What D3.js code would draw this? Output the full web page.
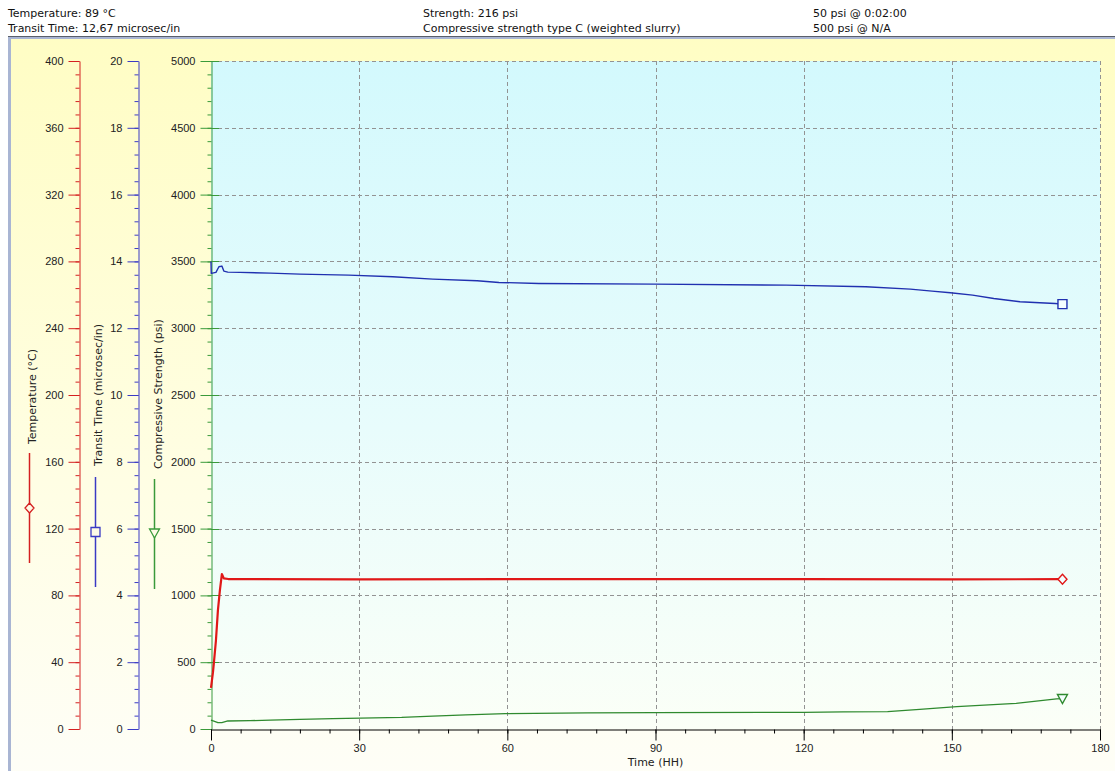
<!DOCTYPE html>
<html>
<head>
<meta charset="utf-8">
<script src="https://cdn.jsdelivr.net/npm/d3@7"></script>
<style>
  body { margin: 0; background: #fff; }
  svg { display: block; font-family: "DejaVu Sans", sans-serif; }
  .tick text { font-size: 11px; fill: #222; }
</style>
</head>
<body>
<div class="chart"></div>
<script>
// header texts
var headerLeft = ['Temperature: 89 °C', 'Transit Time: 12,67 microsec/in'];
var headerMid = ['Strength: 216 psi', 'Compressive strength type C (weighted slurry)'];
var headerRight = ['50 psi @ 0:02:00', '500 psi @ N/A'];

// axis ticks
var timeTicks = [0, 30, 60, 90, 120, 150, 180];
var tempTicks = [0, 40, 80, 120, 160, 200, 240, 280, 320, 360, 400];
var transitTicks = [0, 2, 4, 6, 8, 10, 12, 14, 16, 18, 20];
var strengthTicks = [0, 500, 1000, 1500, 2000, 2500, 3000, 3500, 4000, 4500, 5000];

// temperature (°C)
var tempHours = [0, 0.4, 0.6, 1.0, 1.4, 1.8, 2.2, 2.6, 3.5, 30, 60, 90, 120, 150, 172.4];
var tempC = [24.6, 34, 40, 53, 71, 83, 92.8, 90.2, 89.8, 89.6, 89.8, 89.7, 89.8, 89.6, 89.7];

// transit time (microsec/in)
var transitHours = [0, 0.05, 1.0, 1.6, 2.2, 2.6, 3.4, 5.9, 12, 18, 27.9, 36.8, 44.9, 53.9, 58.3, 66.4,
  89.7, 116.5, 132.6, 141.6, 146, 149.7, 154.2, 158.5, 163.8, 167.8, 170.9, 172.4];
var transitUs = [14.0, 13.64, 13.67, 13.84, 13.86, 13.71, 13.68, 13.67, 13.65, 13.62, 13.59, 13.54, 13.47, 13.42, 13.37, 13.34,
  13.32, 13.29, 13.24, 13.17, 13.11, 13.06, 12.99, 12.89, 12.79, 12.76, 12.74, 12.72];

// compressive strength (psi)
var strengthHours = [0, 0.3, 1.4, 2.2, 3.4, 7.9, 12, 18, 24.7, 38.6, 44.9, 51.6, 59.6, 76.2, 89.7, 120, 128, 137, 143.5, 151, 163, 171.2, 172.4];
var strengthPsi = [67, 62, 47, 47, 60, 62, 67, 72, 77, 87, 97, 105, 115, 120, 122, 125, 128, 130, 147, 167, 192, 225, 228];

var W = 1115, H = 771;
var svg = d3.select('.chart').append('svg').attr('width', W).attr('height', H);

var defs = svg.append('defs');
var g1 = defs.append('linearGradient').attr('id', 'panelBg').attr('x1', 0).attr('y1', 0).attr('x2', 0).attr('y2', 1);
g1.append('stop').attr('offset', '0%').attr('stop-color', '#fffdc4');
g1.append('stop').attr('offset', '60%').attr('stop-color', '#fffee4');
g1.append('stop').attr('offset', '100%').attr('stop-color', '#fefef7');
var g2 = defs.append('linearGradient').attr('id', 'plotBg').attr('x1', 0).attr('y1', 0).attr('x2', 0).attr('y2', 1);
g2.append('stop').attr('offset', '0%').attr('stop-color', '#d3f9fd');
g2.append('stop').attr('offset', '55%').attr('stop-color', '#e8fcfc');
g2.append('stop').attr('offset', '100%').attr('stop-color', '#fbfff7');

// header
function header(lines, x) {
  svg.append('g').selectAll('text').data(lines).enter().append('text')
    .attr('x', x).attr('y', function(d, i) { return 17 + i * 15; })
    .attr('font-size', 11).attr('fill', '#111')
    .text(function(d) { return d; });
}
header(headerLeft, 8);
header(headerMid, 423);
header(headerRight, 813);

// panel
svg.append('rect').attr('x', 9.5).attr('y', 37.5).attr('width', 1120).attr('height', 740)
  .attr('fill', 'url(#panelBg)').attr('stroke', '#a9b5d3').attr('stroke-width', 3);
svg.append('line').attr('x1', 8).attr('x2', W).attr('y1', 36.5).attr('y2', 36.5)
  .attr('stroke', '#5a5f6a').attr('stroke-width', 1);

var x = d3.scaleLinear().domain([0, 180]).range([211, 1100]);
var yS = d3.scaleLinear().domain([0, 5000]).range([729, 61]);
var yT = d3.scaleLinear().domain([0, 400]).range([729, 61]);
var yTr = d3.scaleLinear().domain([0, 20]).range([729, 61]);

svg.append('rect').attr('x', x(0)).attr('y', yS(5000)).attr('width', x(180) - x(0)).attr('height', yS(0) - yS(5000))
  .attr('fill', 'url(#plotBg)');

// grid
var grid = svg.append('g').attr('stroke', '#939393').attr('stroke-dasharray', '4,3').attr('stroke-width', 1);
grid.selectAll('.h').data(strengthTicks.slice(1)).enter().append('line')
  .attr('x1', x(0)).attr('x2', x(180))
  .attr('y1', function(d) { return Math.round(yS(d)) + 0.5; })
  .attr('y2', function(d) { return Math.round(yS(d)) + 0.5; });
grid.selectAll('.v').data(timeTicks.slice(1)).enter().append('line')
  .attr('y1', yS(5000)).attr('y2', yS(0))
  .attr('x1', function(d) { return Math.round(x(d)) + 0.5; })
  .attr('x2', function(d) { return Math.round(x(d)) + 0.5; });

// left axes
function leftAxis(scale, ticks, step, xPos, color) {
  var minor = d3.range(scale.domain()[0], scale.domain()[1] + step / 2, step);
  svg.append('g').attr('transform', 'translate(' + xPos + ',0)')
    .call(d3.axisLeft(scale).tickValues(minor).tickSize(4).tickFormat(''))
    .call(function(g) { g.select('.domain').remove(); g.selectAll('line').attr('stroke', color); });
  var ax = svg.append('g').attr('transform', 'translate(' + xPos + ',0)')
    .call(d3.axisLeft(scale).tickValues(ticks).tickSize(11).tickPadding(5).tickSizeOuter(0)
      .tickFormat(d3.format('d')));
  ax.selectAll('line').attr('stroke', color);
  ax.select('.domain').attr('stroke', color);
  return ax;
}
leftAxis(yT, tempTicks, 8, 79.5, '#d42020');
leftAxis(yTr, transitTicks, 0.4, 138.5, '#3a3ac4');
leftAxis(yS, strengthTicks, 100, 211.5, '#3a9a3a');
svg.append('g').selectAll('line').data(strengthTicks.slice(1)).enter().append('line')
  .attr('x1', 211).attr('x2', 219)
  .attr('y1', function(d) { return Math.round(yS(d)) + 0.5; })
  .attr('y2', function(d) { return Math.round(yS(d)) + 0.5; })
  .attr('stroke', '#3a9a3a');

// bottom axis
svg.append('g').attr('transform', 'translate(0,729.5)')
  .call(d3.axisBottom(x).tickValues(d3.range(0, 181, 6)).tickSize(4).tickFormat(''))
  .call(function(g) { g.select('.domain').remove(); g.selectAll('line').attr('stroke', '#000'); });
svg.append('g').attr('transform', 'translate(0,729.5)')
  .call(d3.axisBottom(x).tickValues(timeTicks).tickSize(11).tickPadding(4).tickSizeOuter(0))
  .call(function(g) { g.selectAll('line').attr('stroke', '#000'); g.select('.domain').attr('stroke', '#000'); });
svg.append('text').attr('x', x(90)).attr('y', 766).attr('text-anchor', 'middle')
  .attr('font-size', 11).attr('fill', '#222').text('Time (HH)');

// axis titles + legend glyphs
var titles = [
  { text: 'Temperature (°C)', x: 32, bottom: 444, color: '#d42020', lx: 29, l1: 453, l2: 563, my: 508, sym: 'diamond' },
  { text: 'Transit Time (microsec/in)', x: 98, bottom: 466, color: '#3a3ac4', lx: 95, l1: 477, l2: 587, my: 532, sym: 'square' },
  { text: 'Compressive Strength (psi)', x: 158, bottom: 469, color: '#3a9a3a', lx: 154, l1: 479, l2: 589, my: 533, sym: 'triangle' }
];
function symPath(sym, cx, cy) {
  if (sym === 'diamond') return 'M' + cx + ',' + (cy - 5) + 'L' + (cx + 4.5) + ',' + cy + 'L' + cx + ',' + (cy + 5) + 'L' + (cx - 4.5) + ',' + cy + 'Z';
  if (sym === 'square') return 'M' + (cx - 4.5) + ',' + (cy - 4.5) + 'h9v9h-9Z';
  return 'M' + (cx - 5) + ',' + (cy - 4) + 'L' + (cx + 5) + ',' + (cy - 4) + 'L' + cx + ',' + (cy + 5) + 'Z';
}
titles.forEach(function(t) {
  svg.append('text').attr('transform', 'translate(' + (t.x + 4) + ',' + t.bottom + ') rotate(-90)')
    .attr('font-size', 11).attr('fill', '#222').text(t.text);
  svg.append('line').attr('x1', t.lx + 0.5).attr('x2', t.lx + 0.5).attr('y1', t.l1).attr('y2', t.l2)
    .attr('stroke', t.color).attr('stroke-width', 1.5);
  svg.append('path').attr('d', symPath(t.sym, t.lx + 0.5, t.my))
    .attr('fill', '#fffbe6').attr('stroke', t.color).attr('stroke-width', 1.3);
});

// series
function series(hours, vals, yScale, color, width, sym) {
  var pts = hours.map(function(h, i) { return [x(h), yScale(vals[i])]; });
  svg.append('path').datum(pts).attr('d', d3.line())
    .attr('fill', 'none').attr('stroke', color).attr('stroke-width', width).attr('stroke-linejoin', 'round');
  var last = pts[pts.length - 1];
  svg.append('path').attr('d', symPath(sym, last[0], last[1]))
    .attr('fill', '#f4feff').attr('stroke', color).attr('stroke-width', 1.4);
}
series(strengthHours, strengthPsi, yS, '#2f8a2f', 1.3, 'triangle');
series(tempHours, tempC, yT, '#e01818', 2.2, 'diamond');
series(transitHours, transitUs, yTr, '#2030b0', 1.4, 'square');
</script>
</body>
</html>
